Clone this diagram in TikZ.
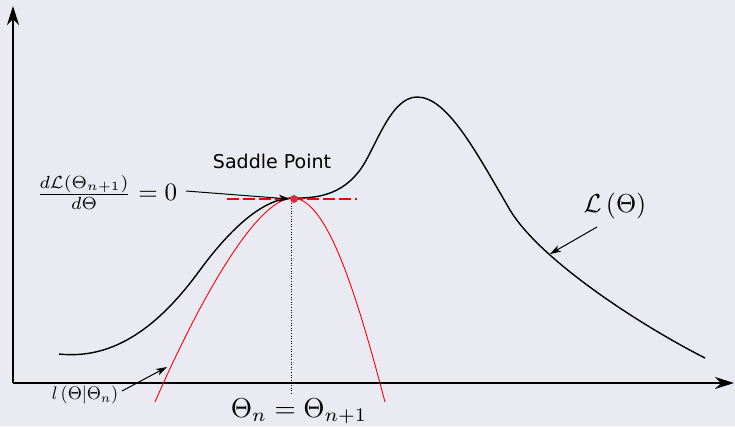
\documentclass[tikz,border=0pt]{standalone}
\usepackage{fontspec}
\newfontfamily\dejavu{DejaVu Sans}
\usetikzlibrary{arrows.meta}
\definecolor{bg}{HTML}{EAEAF2}
\definecolor{dotred}{HTML}{D03838}
\tikzset{
  axisline/.style={line width=1.3pt,-{Stealth[length=19pt,width=12pt,inset=6pt]}},
  ann/.style={line width=1pt,-{Stealth[length=11pt,width=7pt,inset=3pt]}},
  mainc/.style={line width=1.4pt,black},
  redc/.style={line width=0.9pt,red},
}
\begin{document}
\begin{tikzpicture}[x=1pt,y=-1pt]
\fill[bg] (0,0) rectangle (735,426);
\useasboundingbox (0,0) rectangle (735,426);
\coordinate (o) at (13,383);
\coordinate (ytip) at (13,6);
\coordinate (xtip) at (734,383);
\draw[axisline] (o) -- (ytip);
\draw[axisline] (o) -- (xtip);
% main curve
\draw[mainc] (59,354) .. controls (115,360) and (160,325) .. (200,270)
  .. controls (225,236) and (260,198) .. (293,198)
  .. controls (325,199) and (345,190) .. (360,170)
  .. controls (375,150) and (390,97) .. (417,97)
  .. controls (447,97) and (475,150) .. (510,210)
  .. controls (540,260) and (640,325) .. (705,358);
% red curve
\draw[redc] (155,402) .. controls (195,310) and (255,198) .. (293,198)
  .. controls (327,199) and (356,292) .. (385,402);
% dotted line
\coordinate (dtop) at (291,203);
\coordinate (dbot) at (291,393);
\draw[dotted,line width=0.6pt] (dtop) -- (dbot);
% dashed tangent
\coordinate (tl) at (227,199);
\coordinate (tr) at (357,199);
\draw[red,line width=2.8pt,dash pattern=on 12pt off 4pt] (tl) -- (tr);
\node[circle,fill=dotred,inner sep=0pt,minimum size=8pt] (saddle) at (294,199) {};
% labels
\node[font=\dejavu\fontsize{19}{22}\selectfont] (sp) at (272,161) {Saddle Point};
\node[anchor=east,scale=2.5,inner sep=0.5pt] (deriv) at (179,192) {$\frac{d\mathcal{L}(\Theta_{n+1})}{d\Theta}=0$};
\draw[ann] (186,191) -- (saddle.west);
\node[scale=2.6] (Llab) at (615,206) {$\mathcal{L}\left(\Theta\right)$};
\coordinate (Lpt) at (550,254);
\draw[ann] (597,227) -- (Lpt);
\node[scale=1.82] (llab) at (85,395) {$l\left(\Theta|\Theta_n\right)$};
\coordinate (lpt) at (167,367);
\draw[ann] (122,391) -- (lpt);
\node[scale=2.73] (thlab) at (299,411) {$\Theta_n=\Theta_{n+1}$};
\end{tikzpicture}
\end{document}
